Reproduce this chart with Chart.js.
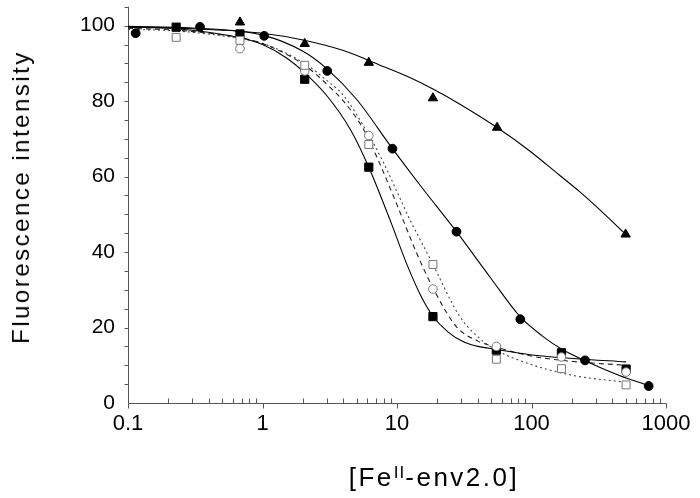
<!DOCTYPE html>
<html>
<head>
<meta charset="utf-8">
<script src="https://cdn.jsdelivr.net/npm/chart.js@4.4.1/dist/chart.umd.min.js"></script>
<style>
  html, body { margin: 0; padding: 0; background: #fff; }
  #wrap { position: relative; width: 700px; height: 498px; overflow: hidden; }
  #c { position: absolute; left: 0; top: 0; }
  .yt { position: absolute; left: 21px; top: 197px; transform: translate(-50%, -50%) rotate(-90deg);
        font: 24px 'Liberation Sans', Arial, sans-serif; letter-spacing: 2.5px; white-space: nowrap; color: #000; }
  .xt { position: absolute; left: 434px; top: 477px; transform: translate(-50%, -50%);
        font: 26px 'Liberation Sans', Arial, sans-serif; letter-spacing: 2.5px; white-space: nowrap; color: #000; }
  .xt .sup { font-size: 17px; position: relative; top: -8px; letter-spacing: 1px; }
</style>
</head>
<body>
<div id="wrap">
  <canvas id="c" width="700" height="498"></canvas>
  <div class="yt">Fluorescence intensity</div>
  <div class="xt">[Fe<span class="sup">II</span>-env2.0]</div>
</div>
<script>
// ---------------- data ----------------
// x tick labels (log axis decades) and y tick labels
const xTickValues = [0.1, 1, 10, 100, 1000];
const xTickLabels = ['0.1', '1', '10', '100', '1000'];
const yTickValues = [0, 20, 40, 60, 80, 100];

// Filled squares
const fSqX = [0.228, 0.68, 2.06, 6.17, 18.5, 54.8, 167, 505];
const fSqY = [99.6, 97.8, 85.8, 62.5, 22.9, 14.0, 13.3, 9.0];
// Open squares
const oSqX = [0.228, 0.68, 2.06, 6.17, 18.5, 54.8, 167, 505];
const oSqY = [96.9, 96.1, 89.5, 68.5, 36.7, 11.6, 9.1, 4.8];
// Open circles
const oCiX = [0.68, 2.06, 6.17, 18.5, 54.8, 167, 505];
const oCiY = [93.9, 88.0, 70.9, 30.2, 15.0, 12.2, 8.2];
// Filled circles
const fCiX = [0.114, 0.343, 1.03, 3.03, 9.25, 27.7, 82.6, 250, 743];
const fCiY = [98.0, 99.7, 97.3, 88.0, 67.4, 45.4, 22.2, 11.3, 4.5];
// Filled triangles
const fTrX = [0.68, 2.06, 6.17, 18.5, 55.5, 501];
const fTrY = [100.9, 95.2, 90.2, 80.8, 73.0, 44.7];

// Fitted curves
const cTrX = [0.1, 0.3, 1, 2, 4, 7.4, 12, 18.5, 30, 55.5, 97, 160, 228, 350, 501];
const cTrY = [99.7, 99.2, 98, 96.2, 93.4, 89.6, 86.5, 83.2, 79, 73, 66.8, 60.5, 56, 50, 44.7];

const cCiX = [0.1, 0.3, 1, 2, 3.03, 5, 9.25, 15, 27.7, 50, 82.6, 120, 167, 250, 450, 743];
const cCiY = [99.8, 99.4, 97.5, 93.2, 88.5, 80.5, 67.4, 57.5, 45.4, 33, 22.8, 17.8, 14.3, 11.2, 7.3, 4.6];

const cSqX = [0.1, 0.23, 0.68, 1, 1.5, 2.06, 3, 4.5, 6.17, 9.08, 11.7, 15, 18.5, 24, 30.9, 40, 54.8, 97.6, 204, 505];
const cSqY = [99.6, 99.2, 96.8, 95, 91.5, 87.5, 81.5, 72.5, 62.5, 47.6, 37.2, 28.5, 23, 18.8, 16.3, 15, 14.2, 12.8, 11.8, 10.9];

const cDashX = [0.1, 0.23, 0.68, 1, 2.06, 3, 4, 5.58, 7.43, 10, 13.9, 18.5, 27.7, 40, 54.8, 97.6, 204, 505];
const cDashY = [99.3, 98.8, 96.8, 95.3, 89.5, 84.5, 80, 72.8, 63.5, 52.5, 40, 30.5, 20.2, 16.4, 14.8, 12.5, 11, 10];

const cDotX = [0.1, 0.23, 0.68, 1, 2.06, 3, 4, 6.17, 7.86, 10, 12.5, 16.6, 18.5, 29.2, 40, 54.8, 97.6, 204, 505];
const cDotY = [99.0, 98.6, 96.6, 95.3, 90, 85.5, 81.5, 71, 64, 56, 48.5, 40, 36.7, 23, 17.5, 14, 10.3, 7.3, 5.5];

// ---------------- helpers ----------------
const pts = (xs, ys) => xs.map((x, i) => ({ x: x, y: ys[i] }));
const FONT = "'Liberation Sans', Arial, sans-serif";

function curve(xs, ys, dash, color) {
  return {
    data: pts(xs, ys), showLine: true, pointRadius: 0, pointHoverRadius: 0,
    borderColor: color, borderWidth: 1.1, borderDash: dash,
    cubicInterpolationMode: 'monotone', fill: false, order: 10
  };
}
function marks(xs, ys, style, radius, fill, stroke) {
  return {
    data: pts(xs, ys), showLine: false, pointStyle: style, pointRadius: radius,
    pointHoverRadius: radius, backgroundColor: fill, borderColor: stroke,
    pointBorderWidth: 1, order: 1
  };
}

// axes lines + minor ticks drawn with the scales' own pixel mapping
const axesPlugin = {
  id: 'axesPlugin',
  beforeDatasetsDraw(chart) {
    const ctx = chart.ctx, xs = chart.scales.x, ys = chart.scales.y;
    const x0 = Math.round(xs.getPixelForValue(0.1)) + 0.5;
    const x1 = Math.round(xs.getPixelForValue(1000)) + 0.5;
    const yb = Math.round(ys.getPixelForValue(0)) + 0.5;
    const yt = ys.getPixelForValue(105);
    ctx.save();
    ctx.strokeStyle = '#555';
    ctx.lineWidth = 1;
    ctx.beginPath();
    ctx.moveTo(x0, yt); ctx.lineTo(x0, yb); ctx.lineTo(x1, yb);
    // y ticks every 5 (outside)
    for (let v = 5; v <= 105; v += 5) {
      const p = Math.round(ys.getPixelForValue(v)) + 0.5;
      ctx.moveTo(x0 - 4, p); ctx.lineTo(x0, p);
    }
    // x ticks: minor inside, major outside
    for (let e = -1; e <= 2; e++) {
      for (let m = 2; m <= 9; m++) {
        const p = Math.round(xs.getPixelForValue(m * Math.pow(10, e))) + 0.5;
        ctx.moveTo(p, yb); ctx.lineTo(p, yb - 5);
      }
    }
    xTickValues.forEach(v => {
      const p = Math.round(xs.getPixelForValue(v)) + 0.5;
      ctx.moveTo(p, yb); ctx.lineTo(p, yb + 5);
    });
    ctx.stroke();
    ctx.restore();
  }
};

new Chart(document.getElementById('c'), {
  type: 'scatter',
  data: {
    datasets: [
      curve(cTrX, cTrY, [], '#000'),
      curve(cCiX, cCiY, [], '#000'),
      curve(cSqX, cSqY, [], '#000'),
      curve(cDashX, cDashY, [5, 4], '#222'),
      curve(cDotX, cDotY, [2, 3], '#444'),
      marks(oSqX, oSqY, 'rect', 5.6, '#fff', '#777'),
      marks(oCiX, oCiY, 'circle', 4.3, '#fff', '#777'),
      marks(fSqX, fSqY, 'rect', 5.8, '#000', '#000'),
      marks(fCiX, fCiY, 'circle', 4.4, '#000', '#000'),
      marks(fTrX, fTrY, 'triangle', 5.4, '#000', '#000')
    ]
  },
  options: {
    responsive: false,
    animation: false,
    events: [],
    layout: { padding: { top: 0, right: 34, left: 0, bottom: 0 } },
    plugins: { legend: { display: false }, tooltip: { enabled: false }, title: { display: false } },
    scales: {
      x: {
        type: 'logarithmic', min: 0.1, max: 1000,
        grid: { display: false, drawTicks: false },
        border: { display: false },
        afterBuildTicks: s => { s.ticks = xTickValues.map(v => ({ value: v })); },
        afterFit: s => { s.height = 95; s.paddingLeft = 0; s.paddingRight = 0; },
        ticks: {
          autoSkip: false, maxRotation: 0, padding: 8, color: '#000',
          font: { family: FONT, size: 22 },
          callback: (v) => {
            const i = xTickValues.findIndex(t => Math.abs(Math.log10(t) - Math.log10(v)) < 1e-6);
            return i >= 0 ? xTickLabels[i] : '';
          }
        }
      },
      y: {
        type: 'linear', min: 0, max: 105,
        grid: { display: false, drawTicks: false },
        border: { display: false },
        afterBuildTicks: s => { s.ticks = yTickValues.map(v => ({ value: v })); },
        afterFit: s => { s.width = 128; s.paddingTop = 0; s.paddingBottom = 0; },
        ticks: {
          padding: 13, color: '#000',
          font: { family: FONT, size: 21 },
          callback: v => String(v)
        }
      }
    }
  },
  plugins: [axesPlugin]
});
</script>
</body>
</html>
